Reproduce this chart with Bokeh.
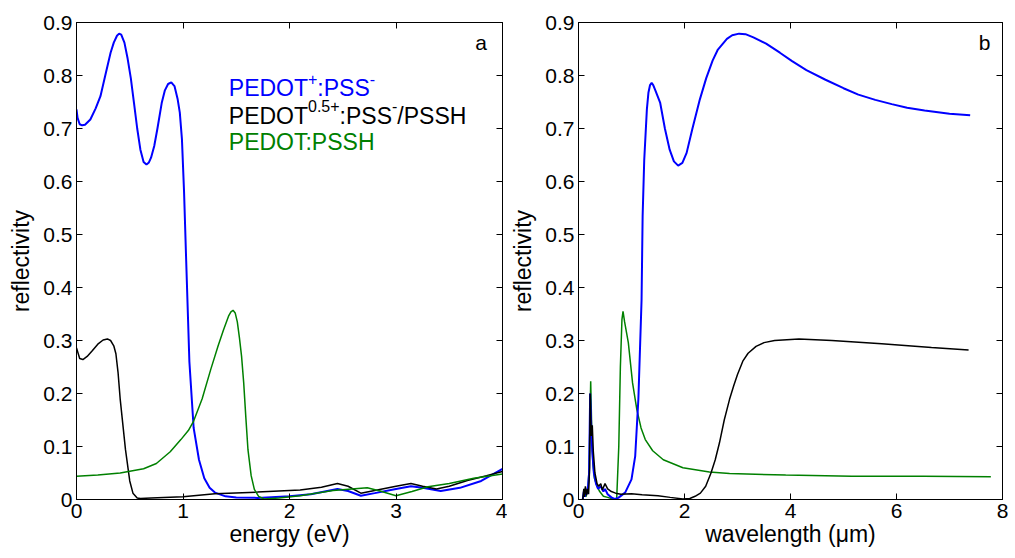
from bokeh.plotting import figure
from bokeh.layouts import row
from bokeh.models import FixedTicker, LinearAxis, Label, Range1d
from bokeh.embed import file_html
from bokeh.resources import INLINE

# ---------------- data ----------------
y_ticks = [0, 0.1, 0.2, 0.3, 0.4, 0.5, 0.6, 0.7, 0.8, 0.9]
y_tick_labels = ["0", "0.1", "0.2", "0.3", "0.4", "0.5", "0.6", "0.7", "0.8", "0.9"]
xa_ticks = [0, 1, 2, 3, 4]
xb_ticks = [0, 2, 4, 6, 8]

# panel a: energy (eV)
ea_blue = [0.0, 0.01, 0.03, 0.053, 0.08, 0.13, 0.18, 0.225, 0.27, 0.32, 0.35, 0.38, 0.4,
           0.42, 0.45, 0.48, 0.51, 0.54, 0.57, 0.6, 0.63, 0.657, 0.68, 0.7, 0.73, 0.76, 0.8,
           0.83, 0.86, 0.89, 0.92, 0.95, 0.97, 0.99, 1.01, 1.03, 1.06, 1.1, 1.15, 1.2, 1.25,
           1.3, 1.4, 1.5, 1.7, 2.0, 2.2, 2.45, 2.55, 2.67, 2.8, 3.0, 3.14, 3.25, 3.42, 3.6,
           3.8, 4.0]
ra_blue = [0.736, 0.72, 0.708, 0.706, 0.707, 0.717, 0.738, 0.761, 0.8, 0.843, 0.862, 0.875,
           0.879, 0.877, 0.862, 0.832, 0.795, 0.748, 0.7, 0.66, 0.637, 0.632, 0.636, 0.645,
           0.667, 0.7, 0.748, 0.772, 0.784, 0.787, 0.78, 0.755, 0.73, 0.68, 0.58, 0.45, 0.26,
           0.135, 0.075, 0.04, 0.022, 0.013, 0.006, 0.004, 0.003, 0.006, 0.01, 0.02, 0.016,
           0.007, 0.012, 0.02, 0.025, 0.022, 0.016, 0.022, 0.035, 0.058]

ea_black = [0.0, 0.03, 0.06, 0.1, 0.15, 0.2, 0.25, 0.29, 0.32, 0.35, 0.37, 0.39, 0.41, 0.46,
            0.5, 0.53, 0.57, 0.6, 0.7, 1.0, 1.3, 1.7, 2.1, 2.3, 2.45, 2.55, 2.67, 2.8, 3.0,
            3.14, 3.25, 3.38, 3.5, 3.67, 3.85, 4.0]
ra_black = [0.286, 0.266, 0.264, 0.27, 0.281, 0.293, 0.301, 0.303, 0.3, 0.29, 0.275, 0.24,
            0.19, 0.094, 0.035, 0.012, 0.003, 0.002, 0.003, 0.005, 0.011, 0.014, 0.018, 0.023,
            0.03, 0.025, 0.012, 0.017, 0.025, 0.03, 0.025, 0.02, 0.025, 0.036, 0.045, 0.053]

ea_green = [0.0, 0.2, 0.41, 0.63, 0.75, 0.88, 0.98, 1.05, 1.1, 1.18, 1.26, 1.33, 1.38, 1.43,
            1.45, 1.47, 1.49, 1.51, 1.53, 1.55, 1.57, 1.59, 1.61, 1.64, 1.67, 1.71, 1.76, 1.9,
            2.1, 2.41, 2.73, 2.85, 3.0, 3.15, 3.3, 3.5, 3.73, 4.0]
ra_green = [0.044, 0.046, 0.05, 0.058, 0.068, 0.09, 0.113, 0.13, 0.148, 0.19, 0.245, 0.29,
            0.32, 0.347, 0.354, 0.357, 0.352, 0.335, 0.305, 0.27, 0.22, 0.155, 0.094, 0.045,
            0.019, 0.006, 0.001, 0.003, 0.007, 0.017, 0.022, 0.016, 0.007, 0.015, 0.024, 0.03,
            0.04, 0.048]

# panel b: wavelength (um)
wb_blue = [0.08, 0.1, 0.12, 0.14, 0.16, 0.18, 0.2, 0.22, 0.24, 0.26, 0.29, 0.33, 0.37, 0.42,
           0.47, 0.5, 0.55, 0.62, 0.68, 0.75, 0.88, 1.0, 1.07, 1.13, 1.19, 1.21, 1.24, 1.29,
           1.32, 1.35, 1.38, 1.41, 1.45, 1.54, 1.63, 1.72, 1.8, 1.88, 1.96, 2.04, 2.15, 2.29,
           2.41, 2.53, 2.63, 2.8, 2.9, 3.03, 3.15, 3.3, 3.54, 3.8, 4.03, 4.3, 4.66, 5.0, 5.28,
           5.6, 5.91, 6.2, 6.53, 7.0, 7.39]
rb_blue = [0.0, 0.015, 0.005, 0.02, 0.01, 0.025, 0.05, 0.2, 0.14, 0.09, 0.05, 0.03, 0.02,
           0.025, 0.015, 0.02, 0.01, 0.004, 0.001, 0.003, 0.013, 0.038, 0.082, 0.19, 0.377,
           0.535, 0.64, 0.736, 0.768, 0.782, 0.786, 0.782, 0.772, 0.749, 0.7, 0.66, 0.638,
           0.63, 0.635, 0.654, 0.7, 0.755, 0.795, 0.828, 0.849, 0.869, 0.876, 0.879, 0.878,
           0.872, 0.86, 0.843, 0.827, 0.81, 0.792, 0.776, 0.764, 0.754, 0.746, 0.739, 0.734,
           0.728, 0.725]

wb_black = [0.08, 0.1, 0.11, 0.13, 0.15, 0.17, 0.19, 0.21, 0.22, 0.24, 0.26, 0.28, 0.31,
            0.35, 0.38, 0.42, 0.45, 0.5, 0.55, 0.62, 0.7, 0.8, 1.0, 1.2, 1.5, 1.73, 1.97, 2.1,
            2.2, 2.3, 2.4, 2.5, 2.58, 2.66, 2.75, 2.85, 2.93, 3.0, 3.1, 3.2, 3.35, 3.5, 3.7,
            4.16, 4.78, 5.72, 6.66, 7.36]
rb_black = [0.0, 0.02, 0.005, 0.025, 0.008, 0.02, 0.01, 0.06, 0.2, 0.12, 0.14, 0.09, 0.05,
            0.03, 0.025, 0.03, 0.018, 0.03, 0.02, 0.015, 0.012, 0.01, 0.011, 0.009, 0.007,
            0.004, 0.001, 0.002, 0.006, 0.012, 0.025, 0.05, 0.075, 0.107, 0.15, 0.189, 0.215,
            0.236, 0.261, 0.276, 0.289, 0.296, 0.3, 0.303, 0.3, 0.294, 0.287, 0.282]

wb_green = [0.08, 0.1, 0.12, 0.14, 0.16, 0.18, 0.2, 0.23, 0.25, 0.27, 0.3, 0.35, 0.4, 0.47,
            0.55, 0.65, 0.72, 0.76, 0.79, 0.82, 0.84, 0.87, 0.94, 1.02, 1.1, 1.18, 1.26, 1.4,
            1.6, 1.97, 2.47, 2.85, 3.91, 5.16, 6.5, 7.78]
rb_green = [0.0, 0.01, 0.02, 0.005, 0.015, 0.02, 0.06, 0.223, 0.13, 0.07, 0.04, 0.025, 0.015,
            0.006, 0.004, 0.001, 0.0, 0.1, 0.25, 0.34, 0.355, 0.335, 0.296, 0.22, 0.17, 0.135,
            0.113, 0.092, 0.075, 0.06, 0.052, 0.049, 0.046, 0.044, 0.044, 0.043]

BLUE = "#0000ff"
BLACK = "#000000"
GREEN = "#008000"
FONT = "Liberation Sans"


def make_fig(width, border_left, border_right, xmax, xticks, xlabel):
    p = figure(width=width, height=549, output_backend="svg", toolbar_location=None,
               x_range=Range1d(0, xmax), y_range=Range1d(0, 0.9),
               min_border_left=border_left, min_border_right=border_right,
               min_border_top=22, min_border_bottom=50,
               x_axis_label=xlabel, y_axis_label="reflectivity")
    p.grid.visible = False
    p.outline_line_color = "black"
    p.outline_line_width = 1
    p.background_fill_color = "white"
    p.border_fill_color = "white"
    for ax, tk in ((p.xaxis[0], xticks), (p.yaxis[0], y_ticks)):
        ax.ticker = FixedTicker(ticks=tk)
        ax.major_tick_in = 6
        ax.major_tick_out = 0
        ax.minor_tick_line_color = None
        ax.axis_line_color = "black"
        ax.major_tick_line_color = "black"
        ax.major_label_text_font = FONT
        ax.major_label_text_font_size = "21px"
        ax.major_label_text_color = "black"
        ax.axis_label_text_font = FONT
        ax.axis_label_text_font_size = "23px"
        ax.axis_label_text_font_style = "normal"
        ax.axis_label_text_color = "black"
    p.yaxis[0].major_label_overrides = dict(zip(y_ticks, y_tick_labels))
    p.yaxis[0].major_label_standoff = 4
    p.xaxis[0].major_label_standoff = 4
    p.xaxis[0].axis_label_standoff = 0
    p.yaxis[0].axis_label_standoff = 6
    for loc, tk in (("above", xticks), ("right", y_ticks)):
        ax = LinearAxis(ticker=FixedTicker(ticks=tk), major_tick_in=6, major_tick_out=0,
                        minor_tick_line_color=None, major_label_text_color=None,
                        major_label_text_font_size="1px", major_label_standoff=0,
                        axis_line_color="black")
        p.add_layout(ax, loc)
    return p


pa = make_fig(507, 76, 5, 4, xa_ticks, "energy (eV)")
pa.line(ea_blue, ra_blue, line_color=BLUE, line_width=2)
pa.line(ea_black, ra_black, line_color=BLACK, line_width=1.5)
pa.line(ea_green, ra_green, line_color=GREEN, line_width=1.5)

pb = make_fig(501, 66, 6, 8, xb_ticks, "wavelength (\u03bcm)")
pb.line(wb_green, rb_green, line_color=GREEN, line_width=1.5)
pb.line(wb_blue, rb_blue, line_color=BLUE, line_width=2)
pb.line(wb_black, rb_black, line_color=BLACK, line_width=1.5)

# panel letters
pa.add_layout(Label(x=3.8, y=0.862, text="a", text_font=FONT, text_font_size="21px",
                    text_align="center", text_baseline="middle", text_color="black"))
pb.add_layout(Label(x=7.66, y=0.862, text="b", text_font=FONT, text_font_size="21px",
                    text_align="center", text_baseline="middle", text_color="black"))

# legend text with superscripts (Arial metrics)
W = {"P": 0.667, "E": 0.667, "D": 0.722, "O": 0.778, "T": 0.611, ":": 0.278, "S": 0.667,
     "H": 0.722, "/": 0.278, "+": 0.584, "-": 0.333, "0": 0.556, ".": 0.278, "5": 0.556}
MAIN = 23
SUP = 16
RAISE = 0.018


def text_width(s, size):
    return sum(W[c] for c in s) * size


def legend_line(parts, x0, y0, color):
    off = 0.0
    for s, sup in parts:
        size = SUP if sup else MAIN
        pa.add_layout(Label(x=x0, y=y0 + (RAISE if sup else 0), x_offset=off, text=s,
                            text_font=FONT, text_font_size=f"{size}px", text_color=color,
                            text_align="left", text_baseline="alphabetic"))
        off += text_width(s, size)


legend_line([("PEDOT", False), ("+", True), (":PSS", False), ("-", True)], 1.43, 0.7755, BLUE)
legend_line([("PEDOT", False), ("0.5+", True), (":PSS", False), ("-", True), ("/PSSH", False)],
            1.43, 0.7245, BLACK)
legend_line([("PEDOT:PSSH", False)], 1.43, 0.6736, GREEN)

layout = row(pa, pb)
open("out.html", "w").write(file_html(layout, INLINE))
